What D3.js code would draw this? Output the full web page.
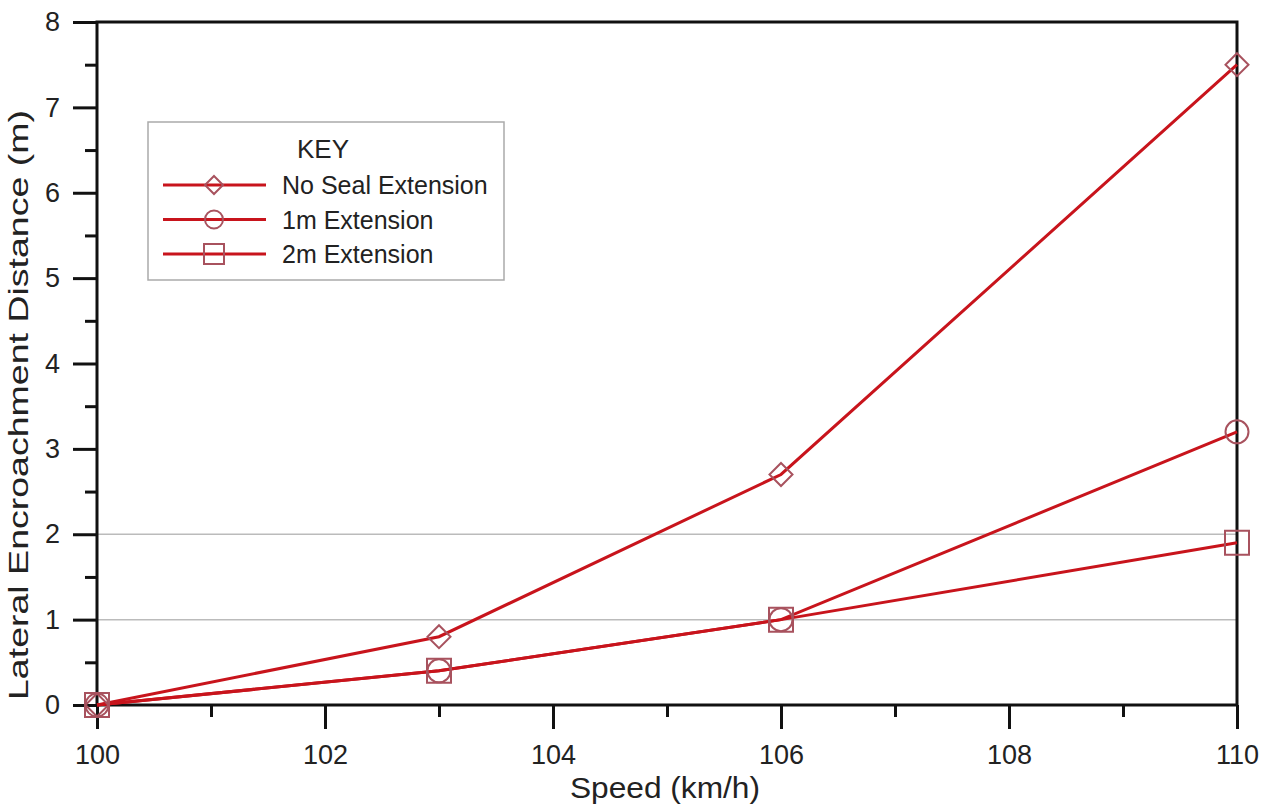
<!DOCTYPE html>
<html lang="en">
<head>
<meta charset="utf-8">
<title>Lateral Encroachment</title>
<script src="https://cdn.jsdelivr.net/npm/d3@7"></script>
<style>
  body { margin: 0; background: #fff; }
  text { font-family: "Liberation Sans", Arial, sans-serif; fill: #222; }
</style>
</head>
<body>
<div id="chart"></div>
<script>
// data
var speeds = [100, 103, 106, 110];
var noSeal = [0, 0.8, 2.7, 7.5];
var ext1m = [0, 0.4, 1.0, 3.2];
var ext2m = [0, 0.4, 1.0, 1.9];
var seriesNames = ["No Seal Extension", "1m Extension", "2m Extension"];
var markerTypes = ["diamond", "circle", "square"];
var gridValues = [1, 2];

var W = 1272, H = 811;
var margin = {top: 22, right: 35, bottom: 106, left: 97};
var width = W - margin.left - margin.right;
var height = H - margin.top - margin.bottom;

var lineColor = "#c8141c";
var markColor = "#a8525e";

var svg = d3.select("#chart").append("svg")
    .attr("width", W).attr("height", H);
var g = svg.append("g")
    .attr("transform", "translate(" + margin.left + "," + margin.top + ")");

var x = d3.scaleLinear().domain([100, 110]).range([0, width]);
var y = d3.scaleLinear().domain([0, 8]).range([height, 0]);

// grid lines (only at 1 and 2 in the original)
g.selectAll(".grid").data(gridValues).enter().append("line")
    .attr("x1", 0).attr("x2", width)
    .attr("y1", function(d) { return y(d); })
    .attr("y2", function(d) { return y(d); })
    .attr("stroke", "#bbb").attr("stroke-width", 1.5);

// frame
g.append("rect").attr("width", width).attr("height", height)
    .attr("fill", "none").attr("stroke", "#111").attr("stroke-width", 3);

function styleAxis(sel) {
  sel.attr("font-size", 27).attr("font-family", "'Liberation Sans', Arial, sans-serif");
  sel.select(".domain").remove();
  sel.selectAll("line").attr("stroke", "#111").attr("stroke-width", 3);
  sel.selectAll("text").style("font-size", "27px").attr("fill", "#222");
}

// minor ticks
g.append("g").attr("transform", "translate(0," + height + ")")
    .call(d3.axisBottom(x).tickValues(d3.range(101, 110, 2)).tickSize(12).tickFormat(""))
    .call(styleAxis);
g.append("g")
    .call(d3.axisLeft(y).tickValues(d3.range(0.5, 8, 1)).tickSize(12).tickFormat(""))
    .call(styleAxis);

// major ticks
g.append("g").attr("transform", "translate(0," + height + ")")
    .call(d3.axisBottom(x).tickValues(d3.range(100, 111, 2)).tickSize(24).tickPadding(16).tickFormat(d3.format("d")))
    .call(styleAxis);
g.append("g")
    .call(d3.axisLeft(y).tickValues(d3.range(0, 9, 1)).tickSize(24).tickPadding(13).tickFormat(d3.format("d")))
    .call(styleAxis);

// axis titles
svg.append("text")
    .attr("x", margin.left + width / 2 - 2).attr("y", 798)
    .attr("text-anchor", "middle").style("font-size", "29px")
    .attr("textLength", 190).attr("lengthAdjust", "spacingAndGlyphs")
    .text("Speed (km/h)");
svg.append("text")
    .attr("transform", "translate(28,405) rotate(-90)")
    .attr("text-anchor", "middle").style("font-size", "28px")
    .attr("textLength", 590).attr("lengthAdjust", "spacingAndGlyphs")
    .text("Lateral Encroachment Distance (m)");

function markerPath(type, h) {
  if (type === "diamond") return "M0," + (-h) + "L" + h + ",0L0," + h + "L" + (-h) + ",0Z";
  if (type === "circle") return d3.arc()({innerRadius: 0, outerRadius: h, startAngle: 0, endAngle: 2 * Math.PI});
  return "M" + (-h) + "," + (-h) + "H" + h + "V" + h + "H" + (-h) + "Z";
}

var allSeries = [noSeal, ext1m, ext2m];
var line = d3.line()
    .x(function(d, i) { return x(speeds[i]); })
    .y(function(d) { return y(d); });

allSeries.forEach(function(vals, si) {
  g.append("path").datum(vals)
      .attr("d", line)
      .attr("fill", "none").attr("stroke", lineColor).attr("stroke-width", 3);
});
allSeries.forEach(function(vals, si) {
  g.selectAll(".m" + si).data(vals).enter().append("path")
      .attr("transform", function(d, i) { return "translate(" + x(speeds[i]) + "," + y(d) + ")"; })
      .attr("d", markerPath(markerTypes[si], si === 2 ? 12 : 11.5))
      .attr("fill", "none").attr("stroke", markColor).attr("stroke-width", 2);
});

// legend
var lg = svg.append("g").attr("transform", "translate(148,122)");
lg.append("rect").attr("width", 356).attr("height", 158)
    .attr("fill", "#fff").attr("stroke", "#aaa").attr("stroke-width", 1.5);
lg.append("text").attr("x", 149).attr("y", 36).style("font-size", "26px").text("KEY");
seriesNames.forEach(function(name, i) {
  var yy = 63 + i * 34.5;
  lg.append("line").attr("x1", 15).attr("x2", 118).attr("y1", yy).attr("y2", yy)
      .attr("stroke", lineColor).attr("stroke-width", 3);
  lg.append("path").attr("transform", "translate(66," + yy + ")")
      .attr("d", markerPath(markerTypes[i], i === 2 ? 10 : 9))
      .attr("fill", "none").attr("stroke", markColor).attr("stroke-width", 2);
  lg.append("text").attr("x", 134).attr("y", yy + 9).style("font-size", "25px").text(name);
});
</script>
</body>
</html>
